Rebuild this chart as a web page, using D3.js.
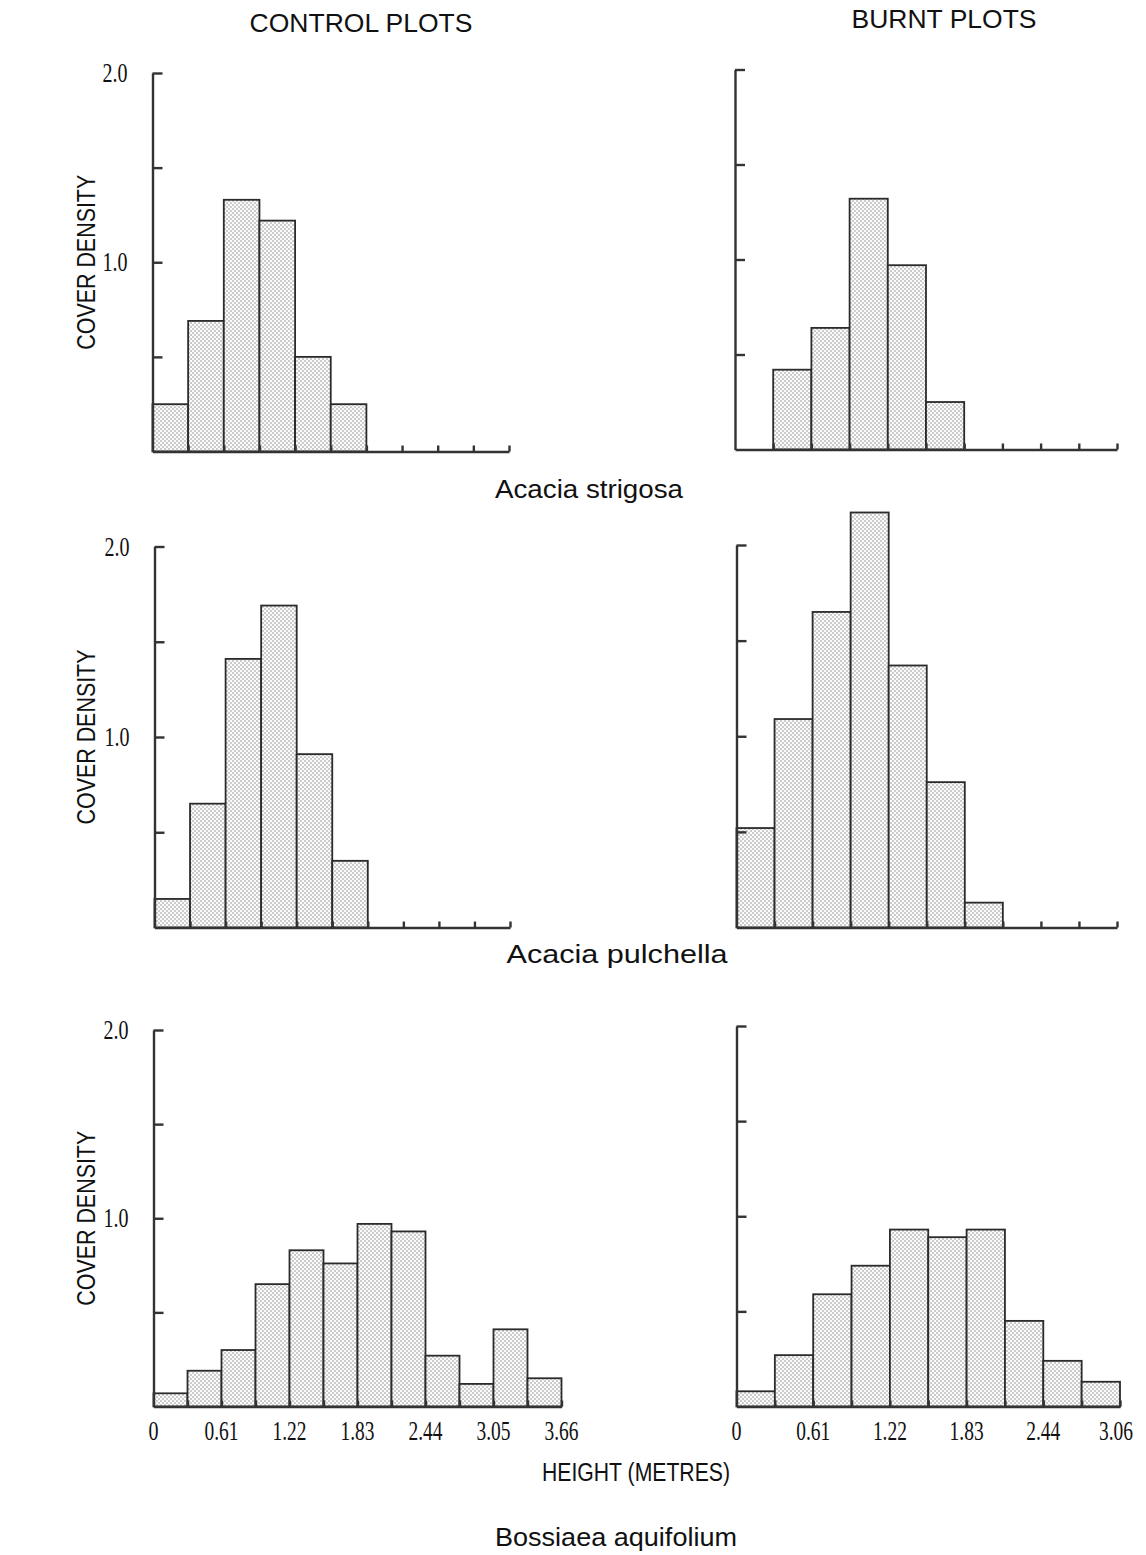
<!DOCTYPE html>
<meta charset="utf-8">
<title>Cover density by height class</title>
<style>
body {
  margin: 0;
  background-color: #fff;
}

text {
  font-family: 'Liberation Sans Narrow', 'Liberation Sans', 'Roboto', sans-serif;
  fill: #111;
}

text.num {
  font-family: 'Liberation Serif', 'DejaVu Serif', serif;
}

.bar {
  fill: url(#dots);
  stroke: #2b2b2b;
  stroke-width: 1.8px;
}

.axis path, .axis line {
  stroke: #333;
  stroke-width: 2.4px;
}
</style>
<body>
<script src="https://d3js.org/d3.v7.min.js"></script>
<script>
// cover density per one-foot (0.305 m) height class
var strigosaControl  = [0.25, 0.69, 1.33, 1.22, 0.50, 0.25, 0, 0, 0, 0];
var strigosaBurnt    = [0, 0.42, 0.64, 1.32, 0.97, 0.25, 0, 0, 0, 0];
var pulchellaControl = [0.15, 0.65, 1.41, 1.69, 0.91, 0.35, 0, 0, 0, 0];
var pulchellaBurnt   = [0.52, 1.09, 1.65, 2.17, 1.37, 0.76, 0.13, 0, 0, 0];
var bossiaeaControl  = [0.07, 0.19, 0.30, 0.65, 0.83, 0.76, 0.97, 0.93, 0.27, 0.12, 0.41, 0.15];
var bossiaeaBurnt    = [0.08, 0.27, 0.59, 0.74, 0.93, 0.89, 0.93, 0.45, 0.24, 0.13];

var species = ["Acacia strigosa", "Acacia pulchella", "Bossiaea aquifolium"];
var controlTickLabels = ["0", "0.61", "1.22", "1.83", "2.44", "3.05", "3.66"];
var burntTickLabels   = ["0", "0.61", "1.22", "1.83", "2.44", "3.06"];
var yTickValues = [0.5, 1.0, 1.5, 2.0];
var yTickLabels = ["1.0", "2.0"];

var width = 1146,
    height = 1555;

var svg = d3.select("body").append("svg")
    .attr("width", width)
    .attr("height", height);

// stipple fill for the bars
var pat = svg.append("defs").append("pattern")
    .attr("id", "dots")
    .attr("patternUnits", "userSpaceOnUse")
    .attr("width", 4)
    .attr("height", 4);
pat.append("rect").attr("width", 4).attr("height", 4).attr("fill", "#fbfbfb");
pat.append("circle").attr("cx", 1).attr("cy", 1).attr("r", 0.8).attr("fill", "#909090");
pat.append("circle").attr("cx", 3).attr("cy", 3).attr("r", 0.8).attr("fill", "#909090");

// where each small chart sits on the page
var panels = [
  {data: strigosaControl,  left: 152.5, right: 509,  bottom: 451.5,  top: 73,   yLab: true},
  {data: strigosaBurnt,    left: 735,   right: 1117, bottom: 449.5,  top: 69.5, yLab: false},
  {data: pulchellaControl, left: 154.5, right: 510,  bottom: 927.5,  top: 546.5, yLab: true},
  {data: pulchellaBurnt,   left: 736.5, right: 1117, bottom: 927.5,  top: 545,  yLab: false},
  {data: bossiaeaControl,  left: 153.5, right: 561.5, bottom: 1406.5, top: 1030, yLab: true, xLab: controlTickLabels},
  {data: bossiaeaBurnt,    left: 736.5, right: 1120, bottom: 1406.5, top: 1026, yLab: false, xLab: burntTickLabels}
];

panels.forEach(function(p) {
    var n = p.data.length;
    var x = d3.scaleLinear().domain([0, n]).range([p.left, p.right]);
    var y = d3.scaleLinear().domain([0, 2]).range([p.bottom, p.top]);
    var g = svg.append("g");

    // bars
    g.selectAll("rect")
        .data(p.data.map(function(v, i) { return {i: i, v: v}; }).filter(function(d) { return d.v > 0; }))
        .enter().append("rect")
        .attr("class", "bar")
        .attr("x", function(d) { return x(d.i); })
        .attr("width", function(d) { return x(d.i + 1) - x(d.i); })
        .attr("y", function(d) { return y(d.v); })
        .attr("height", function(d) { return y(0) - y(d.v); });

    // x axis, ticks point up at every class boundary
    g.append("g")
        .attr("class", "axis")
        .attr("transform", "translate(0," + y(0) + ")")
        .call(d3.axisBottom(x).tickValues(d3.range(1, n + 1)).tickSizeInner(-6).tickSizeOuter(0).tickFormat(""));

    // y axis, ticks point into the plot
    g.append("g")
        .attr("class", "axis")
        .attr("transform", "translate(" + x(0) + ",0)")
        .call(d3.axisLeft(y).tickValues(yTickValues).tickSizeInner(-10).tickSizeOuter(0).tickFormat(""));

    if (p.yLab) {
        g.selectAll(".ylab")
            .data(yTickLabels)
            .enter().append("text")
            .attr("class", "num")
            .attr("x", x(0) - 25)
            .attr("y", function(d) { return y(+d) + 9; })
            .attr("text-anchor", "end")
            .attr("font-size", 27)
            .attr("textLength", 25)
            .attr("lengthAdjust", "spacingAndGlyphs")
            .text(function(d) { return d; });

        g.append("text")
            .attr("transform", "translate(95," + y(1) + ") rotate(-90)")
            .attr("text-anchor", "middle")
            .attr("font-size", 25)
            .attr("textLength", 175)
            .attr("lengthAdjust", "spacingAndGlyphs")
            .text("COVER DENSITY");
    }

    if (p.xLab) {
        g.selectAll(".xlab")
            .data(p.xLab)
            .enter().append("text")
            .attr("class", "num")
            // keep the last label inside the page
            .attr("x", function(d, i) { return Math.min(x(i * 2), width - 30); })
            .attr("y", y(0) + 33)
            .attr("text-anchor", "middle")
            .attr("font-size", 27)
            .attr("textLength", function(d) { return d.length == 1 ? 10 : 34; })
            .attr("lengthAdjust", "spacingAndGlyphs")
            .text(function(d) { return d; });
    }
});

// headings and species names
function label(txt, cx, by, size, len) {
    svg.append("text")
        .attr("x", cx)
        .attr("y", by)
        .attr("text-anchor", "middle")
        .attr("font-size", size)
        .attr("textLength", len)
        .attr("lengthAdjust", "spacingAndGlyphs")
        .text(txt);
}

label("CONTROL PLOTS", 361, 32, 26, 223);
label("BURNT PLOTS", 944, 28, 26, 185);
label(species[0], 589, 498, 25, 188);
label(species[1], 617, 963, 25, 221);
label("HEIGHT (METRES)", 636, 1481, 25, 188);
label(species[2], 616, 1546, 26, 242);
</script>
</body>
</html>
